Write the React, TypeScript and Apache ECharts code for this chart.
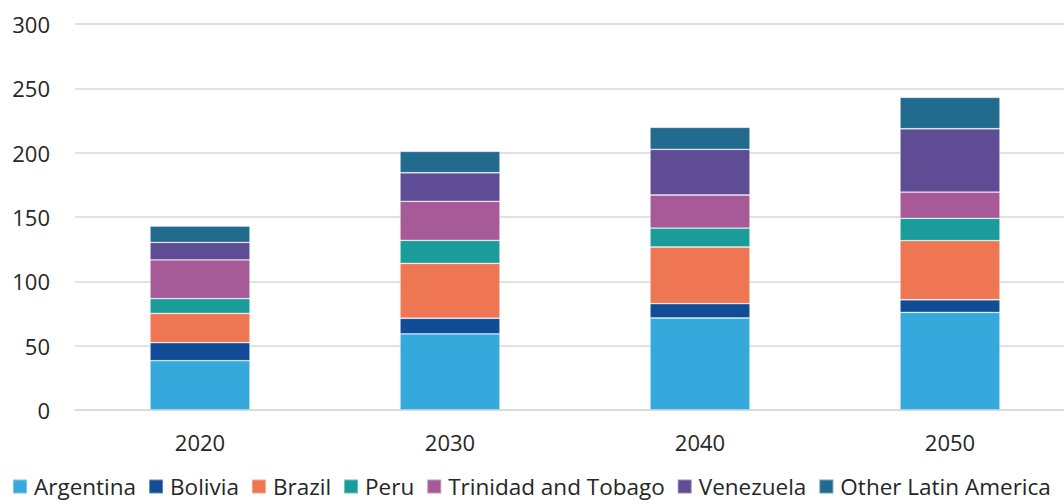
import React, { useEffect, useRef } from "react";
import * as echarts from "echarts";

const years = ["2020", "2030", "2040", "2050"];
const seriesNames = ["Argentina", "Bolivia", "Brazil", "Peru", "Trinidad and Tobago", "Venezuela", "Other Latin America"];
const argentina = [38.3, 59.1, 71.5, 75.9];
const bolivia = [14.0, 12.2, 11.1, 9.8];
const brazil = [22.8, 42.7, 44.1, 45.9];
const peru = [11.4, 17.9, 14.7, 17.4];
const trinidad = [30.1, 30.3, 25.7, 20.4];
const venezuela = [13.7, 22.2, 35.5, 49.2];
const other = [12.7, 16.6, 17.1, 24.4];
const colors = ["#35A9DC", "#114C97", "#EE7652", "#1A9D9A", "#A65A98", "#5E4C94", "#226A8E"];

const allValues = [argentina, bolivia, brazil, peru, trinidad, venezuela, other];

export default function App() {
  const ref = useRef<HTMLDivElement>(null);
  useEffect(() => {
    if (!ref.current) return;
    const chart = echarts.init(ref.current, undefined, { renderer: "svg" });
    const font = "'Open Sans', 'Noto Sans', sans-serif";
    chart.setOption({
      animation: false,
      color: colors,
      textStyle: { fontFamily: font },
      grid: { left: 75, right: 0, top: 24, bottom: 94 },
      legend: {
        top: 475,
        left: 12,
        padding: 0,
        itemWidth: 14,
        itemHeight: 14,
        itemGap: 12,
        icon: "rect",
        textStyle: { fontSize: 22.5, lineHeight: 22, color: "#262626", fontFamily: font, padding: [0, 0, 0, 2] },
        data: seriesNames,
      },
      xAxis: {
        type: "category",
        data: years,
        axisLine: { show: true, lineStyle: { color: "#d9d9d9", width: 1.5 } },
        axisTick: { show: false },
        axisLabel: { fontSize: 22, color: "#262626", margin: 21 },
      },
      yAxis: {
        type: "value",
        min: 0,
        max: 300,
        interval: 50,
        axisLine: { show: false },
        axisTick: { show: false },
        splitLine: { lineStyle: { color: "#d9d9d9", width: 1.5 } },
        axisLabel: { fontSize: 22, color: "#262626", margin: 25 },
      },
      series: seriesNames.map((name, i) => ({
        name,
        type: "bar",
        stack: "total",
        barWidth: "40%",
        data: allValues[i],
        itemStyle: { borderColor: "rgba(255,255,255,0.35)", borderWidth: 0.8 },
      })),
    });
    return () => chart.dispose();
  }, []);
  return (
    <div style={{ position: "fixed", left: 0, top: 0, width: 1064, height: 504, overflow: "hidden", background: "#fff" }}>
      <div ref={ref} style={{ position: "absolute", left: 0, top: 0, width: 1075, height: 504 }} />
    </div>
  );
}
